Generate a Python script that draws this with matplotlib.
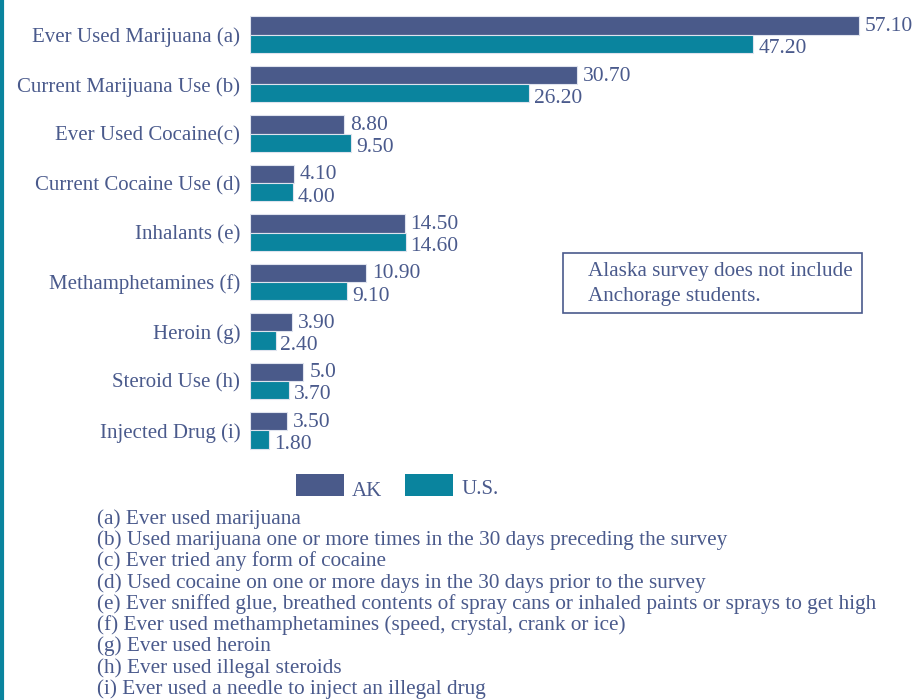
import numpy as np
import matplotlib
matplotlib.use("Agg")
import matplotlib.pyplot as plt
from matplotlib.patches import Rectangle

categories = ["Ever Used Marijuana (a)", "Current Marijuana Use (b)", "Ever Used Cocaine(c)",
              "Current Cocaine Use (d)", "Inhalants (e)", "Methamphetamines (f)",
              "Heroin (g)", "Steroid Use (h)", "Injected Drug (i)"]
ak = [57.10, 30.70, 8.80, 4.10, 14.50, 10.90, 3.90, 5.0, 3.50]
us = [47.20, 26.20, 9.50, 4.00, 14.60, 9.10, 2.40, 3.70, 1.80]
ak_labels = ["57.10", "30.70", "8.80", "4.10", "14.50", "10.90", "3.90", "5.0", "3.50"]
us_labels = ["47.20", "26.20", "9.50", "4.00", "14.60", "9.10", "2.40", "3.70", "1.80"]
series_names = ["AK", "U.S."]
note = "Alaska survey does not include\nAnchorage students."
footnotes = ["(a) Ever used marijuana",
             "(b) Used marijuana one or more times in the 30 days preceding the survey",
             "(c) Ever tried any form of cocaine",
             "(d) Used cocaine on one or more days in the 30 days prior to the survey",
             "(e) Ever sniffed glue, breathed contents of spray cans or inhaled paints or sprays to get high",
             "(f) Ever used methamphetamines (speed, crystal, crank or ice)",
             "(g) Ever used heroin",
             "(h) Ever used illegal steroids",
             "(i) Ever used a needle to inject an illegal drug"]

AK_COL = "#4a5a8a"
US_COL = "#0a849e"
TXT = "#4a5a8c"
plt.rcParams["font.family"] = "serif"
plt.rcParams["font.serif"] = ["Liberation Serif", "DejaVu Serif"]

W, H = 922, 700
fig = plt.figure(figsize=(9.22, 7.0), dpi=100)

# axes in pixel coords: x 250..922, y 10..455
ax = fig.add_axes([250 / W, 1 - 455 / H, 672 / W, 445 / H])
y = np.arange(len(categories))
h = 0.37
ax.barh(y - h / 2, ak, height=h, color=AK_COL, edgecolor="#dfe3ee", linewidth=0.8)
ax.barh(y + h / 2, us, height=h, color=US_COL, edgecolor="#dfe3ee", linewidth=0.8)
for i in range(len(categories)):
    ax.text(ak[i] + 0.55, y[i] - h / 2 + 0.02, ak_labels[i], ha="left", va="center",
            fontsize=15.5, color=TXT)
    ax.text(us[i] + 0.45, y[i] + h / 2 + 0.1, us_labels[i], ha="left", va="center",
            fontsize=15.5, color=TXT)
ax.set_xlim(0, 63.0)
ax.set_ylim(8.5, -0.5)
ax.set_yticks(y)
ax.set_yticklabels(categories, fontsize=15, color=TXT)
ax.tick_params(axis="y", length=0, pad=7)
ax.set_xticks([])
for s in ax.spines.values():
    s.set_visible(False)
ax.patch.set_alpha(0)

# left border
fig.add_artist(plt.Line2D([1.5 / W, 1.5 / W], [0, 1], color=US_COL, linewidth=3))

# note box
fig.add_artist(Rectangle((563 / W, 1 - 313 / H), 299 / W, 60 / H, transform=fig.transFigure,
                         facecolor="white", edgecolor=TXT, linewidth=1.2))
fig.text(588 / W, 1 - 284 / H, note, fontsize=15.2, color=TXT, va="center", ha="left",
         linespacing=1.4)

# legend
fig.add_artist(Rectangle((296 / W, 1 - 496 / H), 48 / W, 22 / H, transform=fig.transFigure,
                         facecolor=AK_COL, edgecolor="none"))
fig.text(352 / W, 1 - 491 / H, series_names[0], fontsize=15, color=TXT, va="center")
fig.add_artist(Rectangle((405 / W, 1 - 496 / H), 48 / W, 22 / H, transform=fig.transFigure,
                         facecolor=US_COL, edgecolor="none"))
fig.text(461 / W, 1 - 490 / H, series_names[1], fontsize=15, color=TXT, va="center")

# footnotes
for k, line in enumerate(footnotes):
    fig.text(97 / W, 1 - (519 + k * 21.25) / H, line, fontsize=15.3, color=TXT, va="center")

fig.savefig("out.png", dpi=100, facecolor="white")
